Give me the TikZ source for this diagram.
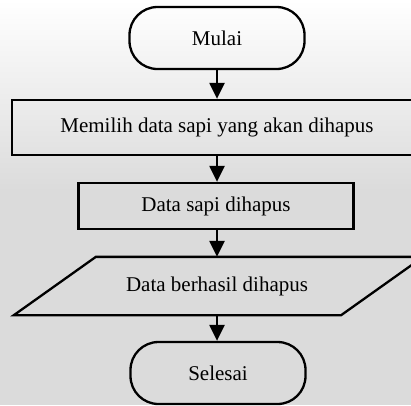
\documentclass[tikz,border=0pt]{standalone}
\usepackage{fontspec}
\setmainfont{Liberation Serif}
\usetikzlibrary{arrows.meta}
\definecolor{paper}{gray}{0.86}
\begin{document}
\begin{tikzpicture}[x=1pt,y=-1pt,
  font=\fontsize{21}{25}\selectfont,
  every node/.style={line width=2.3pt, inner sep=0pt},
  terminal/.style={draw, rounded corners=28pt, minimum width=175pt, minimum height=62pt},
  process/.style={draw, rectangle},
  iotext/.style={rectangle, minimum width=325pt, minimum height=56pt},
  ioedge/.style={line width=2.3pt, line join=miter},
  flow/.style={line width=2.3pt, -{Triangle[width=15pt,length=16pt]}}]
  % page area and soft paper tone
  \useasboundingbox (0,0) rectangle (411,405);
  \clip (0,0) rectangle (411,405);
  \fill[paper] (0,0) rectangle (411,405);
  \shade[top color=white, bottom color=paper] (0,0) rectangle (411,190);

  % flowchart steps
  \node[terminal] (start) at (217,38) {Mulai};
  \node[process, minimum width=410pt, minimum height=55pt] (pick) at (217,127.5)
    {Memilih data sapi yang akan dihapus};
  \node[process, minimum width=275pt, minimum height=46pt] (del) at (216,206)
    {Data sapi dihapus};
  \node[iotext] (done) at (218.5,286) {\hspace*{-3pt}Data berhasil dihapus};
  \draw[ioedge] ([xshift=-41pt]done.south west) -- ([xshift=-41pt]done.south east)
    -- ([xshift=41pt]done.north east) -- ([xshift=41pt]done.north west) -- cycle;
  \node[terminal] (stop) at (218,373) {Selesai};

  % connectors
  \draw[flow] (start.south) -- (start.south |- pick.north);
  \draw[flow] (start.south |- pick.south) -- (start.south |- del.north);
  \draw[flow] (start.south |- del.south) -- (start.south |- done.north);
  \draw[flow] (start.south |- done.south) -- (start.south |- stop.north);
\end{tikzpicture}
\end{document}
